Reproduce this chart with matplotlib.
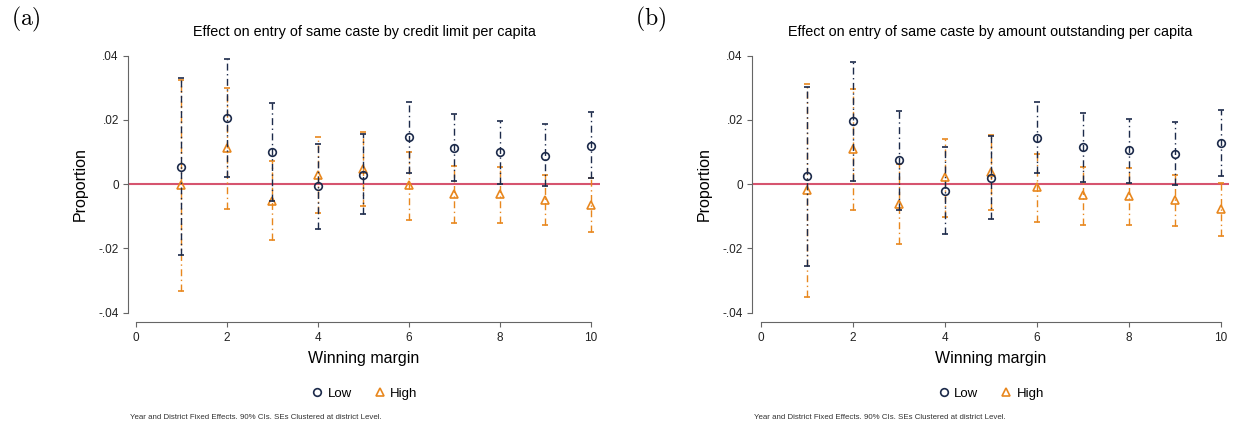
import numpy as np
import matplotlib.pyplot as plt
from matplotlib.lines import Line2D

plt.rcParams['font.family'] = ['Liberation Sans', 'DejaVu Sans']
plt.rcParams['mathtext.fontset'] = 'cm'

margin = [1, 2, 3, 4, 5, 6, 7, 8, 9, 10]

# panel (a): credit limit per capita
a_low = [0.0055, 0.0206, 0.0100, -0.0006, 0.0030, 0.0146, 0.0113, 0.0100, 0.0089, 0.0120]
a_low_hi = [0.0331, 0.0389, 0.0252, 0.0126, 0.0155, 0.0255, 0.0217, 0.0196, 0.0187, 0.0224]
a_low_lo = [-0.0221, 0.0023, -0.0052, -0.0138, -0.0094, 0.0036, 0.0009, 0.0002, -0.0007, 0.0018]
a_high = [-0.0003, 0.0113, -0.0051, 0.0030, 0.0047, -0.0003, -0.0031, -0.0032, -0.0048, -0.0064]
a_high_hi = [0.0325, 0.0298, 0.0072, 0.0147, 0.0164, 0.0101, 0.0057, 0.0054, 0.0029, 0.0018]
a_high_lo = [-0.0332, -0.0078, -0.0174, -0.0091, -0.0068, -0.0110, -0.0121, -0.0121, -0.0126, -0.0148]

# panel (b): amount outstanding per capita
b_low = [0.0025, 0.0196, 0.0074, -0.0020, 0.0020, 0.0145, 0.0115, 0.0105, 0.0094, 0.0128]
b_low_hi = [0.0303, 0.0381, 0.0227, 0.0116, 0.0150, 0.0257, 0.0221, 0.0203, 0.0194, 0.0231]
b_low_lo = [-0.0254, 0.0011, -0.0080, -0.0154, -0.0108, 0.0034, 0.0008, 0.0004, -0.0004, 0.0024]
b_high = [-0.0019, 0.0110, -0.0061, 0.0021, 0.0038, -0.0009, -0.0035, -0.0036, -0.0049, -0.0076]
b_high_hi = [0.0312, 0.0296, 0.0064, 0.0140, 0.0154, 0.0094, 0.0052, 0.0051, 0.0029, 0.0005]
b_high_lo = [-0.0352, -0.0079, -0.0187, -0.0101, -0.0079, -0.0118, -0.0128, -0.0126, -0.0130, -0.0161]

titles = ["Effect on entry of same caste by credit limit per capita",
          "Effect on entry of same caste by amount outstanding per capita"]
tags = ["(a)", "(b)"]
yticks = [-0.04, -0.02, 0, 0.02, 0.04]
ylabels = ["-.04", "-.02", "0", ".02", ".04"]
xticks = [0, 2, 4, 6, 8, 10]
note = "Year and District Fixed Effects. 90% CIs. SEs Clustered at district Level."

navy = '#1c2a4a'
orange = '#e8871e'
zero_col = '#d6546f'
axis_col = '#666666'

fig = plt.figure(figsize=(12.34, 4.28), dpi=100)
boxes = [[128 / 1234, 0.2694, 472 / 1234, 0.6005], [752 / 1234, 0.2694, 477 / 1234, 0.6005]]
xlims = [(-0.17, 10.2), (-0.19, 10.18)]
panels = [(a_low, a_low_lo, a_low_hi, a_high, a_high_lo, a_high_hi),
          (b_low, b_low_lo, b_low_hi, b_high, b_high_lo, b_high_hi)]
dashdot = (0, (5, 2.5, 1, 2.5))

for k in range(2):
    ax = fig.add_axes(boxes[k])
    low, low_lo, low_hi, high, high_lo, high_hi = [np.array(v) for v in panels[k]]
    x = np.array(margin)
    ax.axhline(0, color=zero_col, lw=1.5, zorder=1)
    e1 = ax.errorbar(x, low, yerr=[low - low_lo, low_hi - low], fmt='o', ms=5.5,
                     mfc='none', mec=navy, mew=1.2, ecolor=navy, elinewidth=1,
                     capsize=2.2, capthick=1, zorder=3)
    e1[2][0].set_linestyle(dashdot)
    e2 = ax.errorbar(x, high, yerr=[high - high_lo, high_hi - high], fmt='^', ms=5.5,
                     mfc='none', mec=orange, mew=1.2, ecolor=orange, elinewidth=1,
                     capsize=2.2, capthick=1, zorder=2)
    e2[2][0].set_linestyle(dashdot)

    ax.set_xlim(*xlims[k])
    ax.set_ylim(-0.04, 0.04)
    ax.set_yticks(yticks)
    ax.set_yticklabels(ylabels)
    ax.set_xticks(xticks)
    for s in ['top', 'right']:
        ax.spines[s].set_visible(False)
    ax.spines['left'].set_bounds(-0.04, 0.04)
    ax.spines['bottom'].set_position(('outward', 7))
    ax.spines['bottom'].set_bounds(0, 10)
    for s in ['left', 'bottom']:
        ax.spines[s].set_color(axis_col)
    ax.tick_params(axis='both', colors=axis_col, labelcolor='#222222', labelsize=8.5,
                   length=3.6, pad=3)
    ax.set_ylabel("Proportion", fontsize=11.5, labelpad=8)
    ax.set_xlabel("Winning margin", fontsize=11.5, labelpad=5)
    ax.set_title(titles[k], fontsize=10.4, pad=14)

    handles = [Line2D([], [], ls='none', marker='o', ms=5.5, mfc='none', mec=navy, mew=1.2),
               Line2D([], [], ls='none', marker='^', ms=5.5, mfc='none', mec=orange, mew=1.2)]
    ax.legend(handles, ['Low', 'High'], loc='center', bbox_to_anchor=(0.5, -0.316), ncol=2,
              frameon=False, fontsize=9.5, handletextpad=0.3, columnspacing=1.6,
              handlelength=1.0)

    fx = boxes[k][0]
    fig.text(fx - 0.095, 0.955, r'$\mathrm{' + tags[k] + '}$', fontsize=17, va='center')
    fig.text(fx + 0.002, 0.022, note, fontsize=5.7, color='#333333')

fig.savefig('out.png', dpi=100)
